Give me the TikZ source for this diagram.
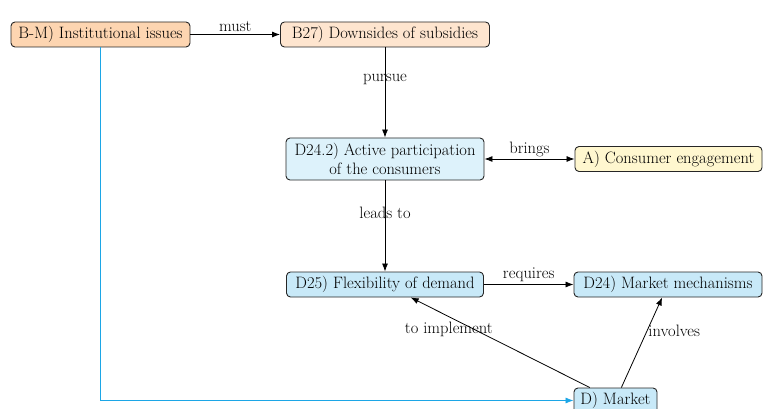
\documentclass[tikz,border=0pt]{standalone}
\usepackage{fontspec}
\usetikzlibrary{arrows.meta}
\definecolor{instfill}{HTML}{FDD5B1}
\definecolor{subsfill}{HTML}{FEE5CF}
\definecolor{partfill}{HTML}{DDF2FB}
\definecolor{consfill}{HTML}{FFF7CF}
\definecolor{mktfill}{HTML}{C8E9F8}
\definecolor{linkcyan}{HTML}{1CA6E6}
\begin{document}
\begin{tikzpicture}[x=1pt,y=-1pt,
  box/.style={draw=black!85, line width=0.9pt, rounded corners=4pt,
    inner xsep=4pt, inner ysep=2pt, minimum height=25pt,
    font=\fontsize{16.5}{19}\selectfont, align=center},
  lbl/.style={font=\fontsize{16.5}{19}\selectfont, inner sep=2pt},
  tip/.tip={Latex[length=8pt,width=6pt]},
  arr/.style={-tip, line width=0.8pt, draw=black},
  duplex/.style={tip-tip, line width=0.8pt, draw=black},
  crosslink/.style={-tip, line width=0.8pt, draw=linkcyan},
]
\useasboundingbox (0,0) rectangle (763,409);

% concepts
\node[box, fill=instfill, minimum width=179pt] (bm)   at (100.5,34.5) {B-M) Institutional issues};
\node[box, fill=subsfill, minimum width=209pt] (b27)  at (385,34.5) {B27) Downsides of subsidies};
\node[box, fill=partfill, minimum width=198pt, minimum height=42pt] (d242) at (385,159) {D24.2) Active participation\\of the consumers};
\node[box, fill=consfill, minimum width=187pt] (ace)  at (668.5,159) {A) Consumer engagement};
\node[box, fill=mktfill,  minimum width=197pt] (d25)  at (385,284.5) {D25) Flexibility of demand};
\node[box, fill=mktfill,  minimum width=188pt] (d24)  at (668,284.5) {D24) Market mechanisms};
\node[box, fill=mktfill,  minimum width=83pt]  (dm)   at (615.5,400.5) {D) Market};

% relations
\draw[arr] (bm) -- node[lbl, above] {must} (b27);
\draw[arr] (b27) -- node[lbl, pos=0.35] {pursue} (d242);
\draw[duplex] (d242) -- node[lbl, above] {brings} (ace);
\draw[arr] (d242) -- node[lbl, pos=0.36] {leads to} (d25);
\draw[arr] (d25) -- node[lbl, above] {requires} (d24);
\draw[arr] (dm) -- node[lbl, pos=0.787, below=3pt] {to implement} (d25);
\draw[arr] (dm) -- node[lbl, pos=0.63, anchor=west, inner sep=1pt] {involves} (d24);
\draw[crosslink] (bm) |- (dm);
\end{tikzpicture}
\end{document}
